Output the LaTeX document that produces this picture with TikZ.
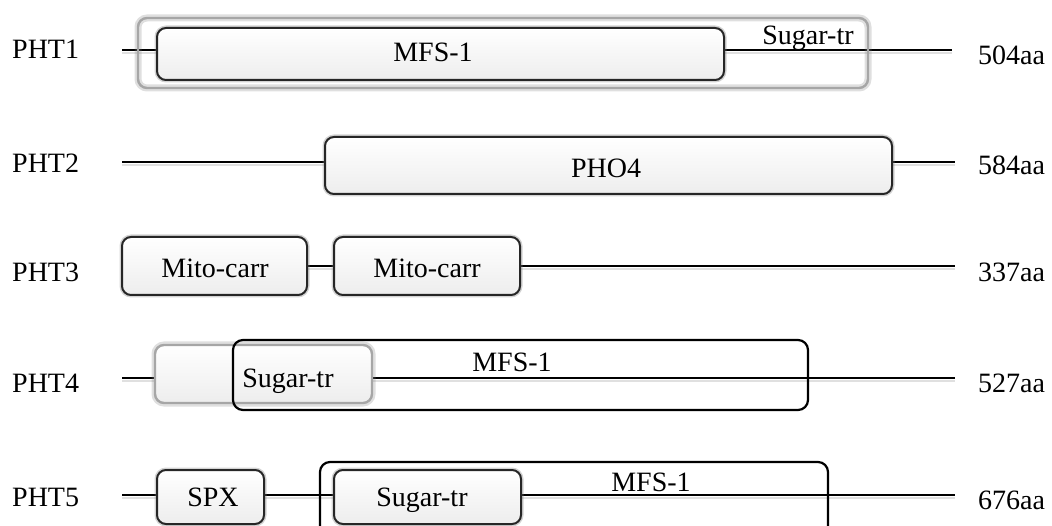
\documentclass[tikz,border=0pt]{standalone}
\usepackage{fontspec}
\setmainfont{Liberation Serif}
\usetikzlibrary{positioning}

\tikzset{
  backbone/.style={line width=1.4pt,
    preaction={draw=black!12, line width=2.5pt, transform canvas={yshift=-3pt}}},
  pfambox/.style={draw=black!85, line width=2pt, rounded corners=9pt, inner sep=0pt,
    top color=white, middle color=white, bottom color=gray!14,
    preaction={draw=gray, opacity=0.35, line width=5pt}},
  palebox/.style={draw=gray!70, line width=2.4pt, rounded corners=9pt, inner sep=0pt,
    preaction={draw=gray, opacity=0.25, line width=7pt}},
  spanbox/.style={draw=black, line width=2.2pt, rounded corners=10pt, inner sep=0pt},
  tag/.style={inner sep=0pt}
}

\begin{document}
\begin{tikzpicture}[x=1pt, y=-1pt, font=\fontsize{28}{32}\selectfont]
	\useasboundingbox (0,0) rectangle (1052,526);

	% names
	\node[tag, anchor=west] (pht1) at (12, 49) {PHT1};
	\node[tag, anchor=west] (pht2) at (12, 163) {PHT2};
	\node[tag, anchor=west] (pht3) at (12, 272) {PHT3};
	\node[tag, anchor=west] (pht4) at (12, 383) {PHT4};
	\node[tag, anchor=west] (pht5) at (12, 497) {PHT5};

	% lengths
	\node[tag, anchor=west] (len1) at (978, 55) {504aa};
	\node[tag, anchor=west] (len2) at (978, 165) {584aa};
	\node[tag, anchor=west] (len3) at (978, 272) {337aa};
	\node[tag, anchor=west] (len4) at (978, 383) {527aa};
	\node[tag, anchor=west] (len5) at (978, 500) {676aa};

	% backbones
	\coordinate (a1) at (122, 50);
	\coordinate (b1) at (952, 50);
	\coordinate (a2) at (122, 162);
	\coordinate (b2) at (955, 162);
	\coordinate (a3) at (122, 266);
	\coordinate (b3) at (955, 266);
	\coordinate (a4) at (122, 378);
	\coordinate (b4) at (955, 378);
	\coordinate (a5) at (122, 495);
	\coordinate (b5) at (955, 495);
	\draw[backbone] (a1) -- (b1);
	\draw[backbone] (a2) -- (b2);
	\draw[backbone] (a3) -- (b3);
	\draw[backbone] (a4) -- (b4);
	\draw[backbone] (a5) -- (b5);

	% PHT1
	\node[palebox, minimum width=730pt, minimum height=70pt] (sugar1) at (503, 53) {};
	\node[pfambox, minimum width=567pt, minimum height=52pt] (mfs1) at (440.5, 54) {};
	\node[tag] (mfs1t) at (433, 52) {MFS-1};
	\node[tag] (sugar1t) at (808, 38) {Sugar-tr};

	% PHT2
	\node[pfambox, minimum width=567pt, minimum height=57pt] (pho) at (608.5, 165.5) {};
	\node[tag] (phot) at (606, 168) {PHO4};

	% PHT3
	\node[pfambox, minimum width=185pt, minimum height=58pt] (mito1) at (214.5, 266) {};
	\node[pfambox, minimum width=186pt, minimum height=58pt] (mito2) at (427, 266) {};
	\node[tag] (mito1t) at (215, 268) {Mito-carr};
	\node[tag] (mito2t) at (427, 268) {Mito-carr};

	% PHT4
	\node[palebox, top color=white, middle color=white, bottom color=gray!14, minimum width=217pt, minimum height=58pt] (sugar4) at (263.5, 374) {};
	\node[spanbox, minimum width=575pt, minimum height=70pt] (mfs4) at (520.5, 375) {};
	\node[tag] (sugar4t) at (288, 381) {Sugar-tr};
	\node[tag] (mfs4t) at (512, 362) {MFS-1};

	% PHT5
	\node[spanbox, minimum width=508pt, minimum height=80pt] (mfs5) at (574, 502) {};
	\node[pfambox, minimum width=107pt, minimum height=54pt] (spx) at (210.5, 497) {};
	\node[pfambox, minimum width=187pt, minimum height=54pt] (sugar5) at (427.5, 497) {};
	\node[tag] (spxt) at (213, 497) {SPX};
	\node[tag] (sugar5t) at (422, 500) {Sugar-tr};
	\node[tag] (mfs5t) at (651, 482) {MFS-1};
\end{tikzpicture}
\end{document}
